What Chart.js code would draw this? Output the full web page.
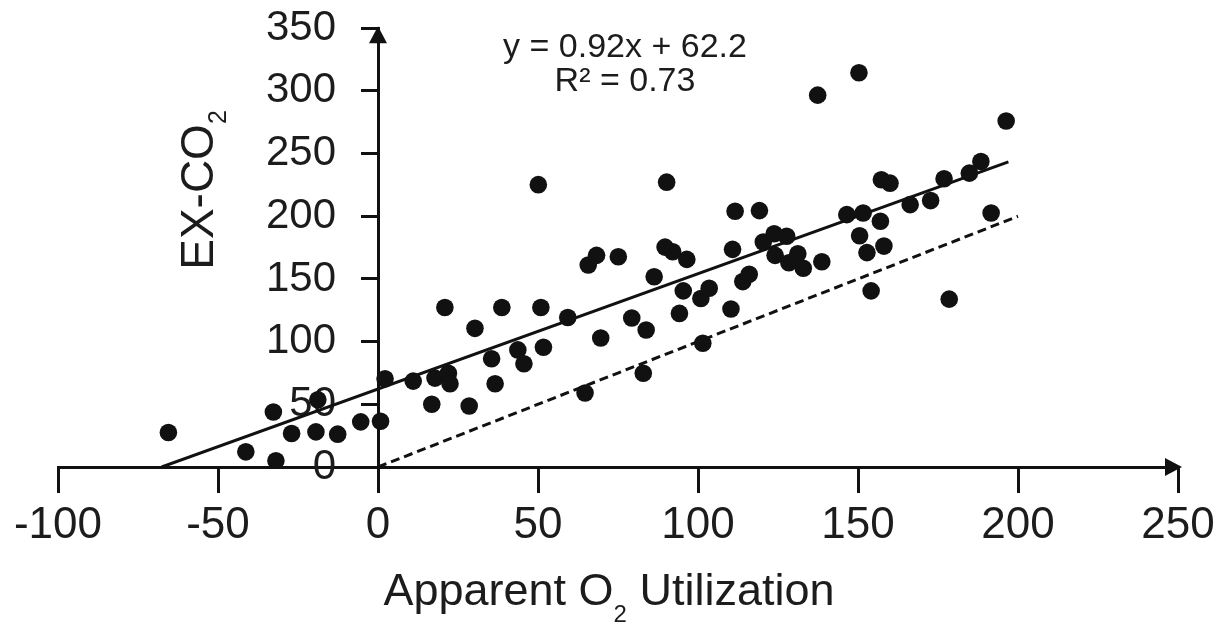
<!DOCTYPE html>
<html><head><meta charset="utf-8">
<script src="https://cdn.jsdelivr.net/npm/chart.js@4"></script>
<style>html,body{margin:0;padding:0;background:#fff}#wrap{width:1225px;height:624px}</style>
</head><body><div id="wrap"><canvas id="c" width="1225" height="624"></canvas></div>
<script>
// ---- data ----
const aouValues = [-65.5,-41.3,-32.7,-31.9,-27.0,-19.4,-18.8,-12.6,-5.4,0.8,2.2,11.0,16.8,17.8,20.9,22.0,22.5,28.5,30.3,36.6,35.5,38.7,43.7,45.6,50.1,50.9,51.7,59.3,64.7,65.7,68.3,69.6,75.1,79.3,83.8,82.9,86.3,90.2,89.7,92.1,94.2,95.4,96.5,100.9,101.5,103.5,110.3,110.8,111.6,114.0,116.0,119.2,120.4,123.8,124.1,127.7,128.4,131.2,132.9,137.4,138.7,146.5,150.3,150.5,151.6,152.8,154.1,157.3,160.0,157.0,158.1,166.3,172.7,176.9,178.5,184.8,188.4,191.6,196.3];
const exco2Values = [27.5,12.1,43.9,5.0,26.7,28.0,53.7,26.2,36.0,36.5,70.4,68.5,50.0,70.9,127.2,74.8,66.4,48.7,110.6,66.4,86.3,127.2,93.4,82.3,225.2,127.2,95.5,119.3,59.0,161.1,168.8,102.9,167.7,118.8,109.3,74.8,151.8,227.2,175.4,171.7,122.5,140.5,165.6,134.4,98.7,142.6,126.0,173.6,204.0,147.9,153.7,204.5,179.4,186.0,168.8,184.1,162.9,170.1,158.5,296.6,163.7,201.3,314.5,184.5,202.6,171.0,140.5,229.1,226.4,196.0,176.2,209.3,212.5,229.9,133.9,234.4,243.7,202.6,276.0];
const fitLineX = [-67.6, 197];
const fitLineY = [0, 243.4];
const oneToOneX = [0, 200];
const oneToOneY = [0, 200];
const xRange = [-100, 250];
const yRange = [0, 350];
const tickStep = 50;
const equationLines = ['y = 0.92x + 62.2', 'R\u00B2 = 0.73'];
const xTitleParts = ['Apparent O', '2', ' Utilization'];
const yTitleParts = ['EX-CO', '2'];

const INK = '#111111';
const TEXT = '#1c1c1c';
const FONT = "'Liberation Sans', Arial, Helvetica, sans-serif";

const toPoints = (xs, ys) => xs.map((x, i) => ({x: x, y: ys[i]}));

function drawSubText(ctx, parts, mainSize, subSize, subDrop) {
  // returns total width; draws from x=0 on baseline y=0 (in current transform)
  let x = 0;
  parts.forEach((p, i) => {
    const isSub = (i === 1);
    ctx.font = (isSub ? subSize : mainSize) + 'px ' + FONT;
    ctx.fillText(p, x, isSub ? subDrop : 0);
    x += ctx.measureText(p).width;
  });
  return x;
}
function measureSubText(ctx, parts, mainSize, subSize) {
  let w = 0;
  parts.forEach((p, i) => {
    ctx.font = (i === 1 ? subSize : mainSize) + 'px ' + FONT;
    w += ctx.measureText(p).width;
  });
  return w;
}

const decorations = {
  id: 'decorations',
  afterDraw(chart) {
    const ctx = chart.ctx;
    const xs = chart.scales.x, ys = chart.scales.y;
    const x0 = xs.getPixelForValue(0), y0 = ys.getPixelForValue(0);
    ctx.save();
    ctx.fillStyle = INK;
    // arrow on x axis
    const xr = xs.right;
    ctx.beginPath();
    ctx.moveTo(xr + 4, y0);
    ctx.lineTo(xr - 13, y0 - 9);
    ctx.lineTo(xr - 13, y0 + 9);
    ctx.closePath();
    ctx.fill();
    // arrow on y axis
    const yt = ys.top;
    ctx.beginPath();
    ctx.moveTo(x0, yt - 2);
    ctx.lineTo(x0 - 9, yt + 15);
    ctx.lineTo(x0 + 9, yt + 15);
    ctx.closePath();
    ctx.fill();

    ctx.fillStyle = TEXT;
    ctx.textBaseline = 'alphabetic';
    ctx.textAlign = 'left';
    // x axis title
    const wx = measureSubText(ctx, xTitleParts, 45, 24);
    ctx.save();
    ctx.translate(609 - wx / 2, 605);
    drawSubText(ctx, xTitleParts, 45, 24, 17);
    ctx.restore();
    // y axis title
    const wy = measureSubText(ctx, yTitleParts, 46, 25);
    ctx.save();
    ctx.translate(213, 190 + wy / 2);
    ctx.rotate(-Math.PI / 2);
    drawSubText(ctx, yTitleParts, 46, 25, 13);
    ctx.restore();
    // regression equation
    ctx.textAlign = 'center';
    ctx.font = '34px ' + FONT;
    ctx.fillText(equationLines[0], 625, 57);
    ctx.fillText(equationLines[1], 625, 91);
    ctx.restore();
  }
};

new Chart(document.getElementById('c'), {
  type: 'scatter',
  data: {
    datasets: [
      {
        label: 'EX-CO2',
        data: toPoints(aouValues, exco2Values),
        backgroundColor: INK,
        borderColor: INK,
        pointRadius: 8.8,
        pointHoverRadius: 8.8,
        borderWidth: 0,
        order: 1
      },
      {
        label: 'fit',
        data: toPoints(fitLineX, fitLineY),
        showLine: true,
        borderColor: INK,
        borderWidth: 3,
        pointRadius: 0,
        fill: false,
        order: 2
      },
      {
        label: '1:1',
        data: toPoints(oneToOneX, oneToOneY),
        showLine: true,
        borderColor: INK,
        borderWidth: 3,
        borderDash: [9, 5],
        pointRadius: 0,
        fill: false,
        order: 3
      }
    ]
  },
  options: {
    responsive: false,
    animation: false,
    devicePixelRatio: 1,
    layout: { padding: { left: 58, right: 47, top: 26, bottom: 157 } },
    plugins: { legend: { display: false }, tooltip: { enabled: false } },
    scales: {
      x: {
        type: 'linear',
        min: xRange[0], max: xRange[1],
        position: { y: 0 },
        ticks: {
          stepSize: tickStep, autoSkip: false, maxRotation: 0,
          color: TEXT, padding: 8,
          font: { family: FONT, size: 44 }
        },
        grid: { drawOnChartArea: false, drawTicks: true, tickLength: 24, color: INK, lineWidth: 3 },
        border: { display: true, color: INK, width: 3 }
      },
      y: {
        type: 'linear',
        min: yRange[0], max: yRange[1],
        position: { x: 0 },
        ticks: {
          stepSize: tickStep, autoSkip: false,
          color: TEXT,
          font: { family: FONT, size: 42 },
          callback: v => v + '\u2002\u2002'
        },
        grid: { drawOnChartArea: false, drawTicks: true, tickLength: 16, color: INK, lineWidth: 3 },
        border: { display: true, color: INK, width: 3 }
      }
    }
  },
  plugins: [decorations]
});
</script>
</body></html>
